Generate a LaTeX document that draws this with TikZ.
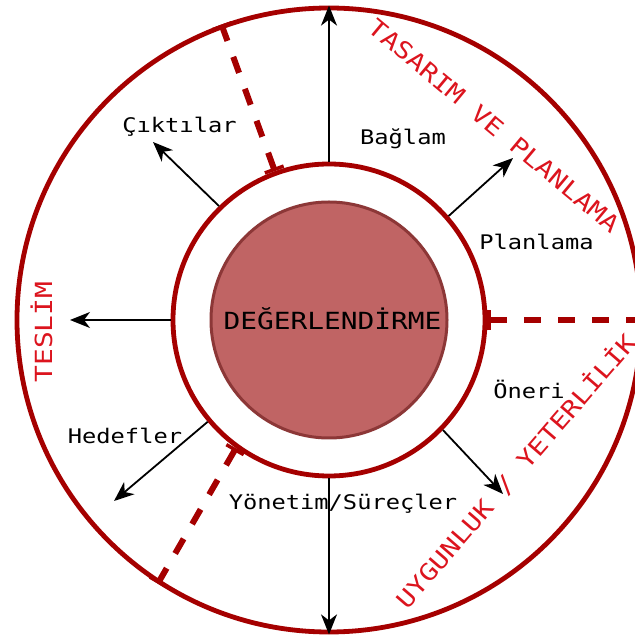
\documentclass[tikz,border=0pt]{standalone}
\usepackage{fontspec}
\newfontfamily\monof[FakeStretch=1.18]{DejaVu Sans Mono}
\usetikzlibrary{arrows.meta}
\definecolor{ringred}{RGB}{165,0,0}
\definecolor{labred}{RGB}{220,20,30}
\definecolor{corefill}{RGB}{192,100,100}
\definecolor{coreline}{RGB}{140,55,55}
\begin{document}
\begin{tikzpicture}[x=1pt,y=1pt,
  ringc/.style={circle,draw=ringred,line width=4.8pt,inner sep=0pt},
  arr/.style={line width=1.8pt,-{Stealth[length=20pt,width=16pt,inset=6pt]}},
  sectorline/.style={draw=ringred,line width=6pt,dash pattern=on 17pt off 17pt,
     {Bar[width=20pt,line width=3.5pt]}-{Bar[width=20pt,line width=3.5pt]}},
  lab/.style={font=\monof\fontsize{20.1}{20.1}\selectfont,anchor=base,inner sep=0pt},
  biglab/.style={font=\monof\fontsize{23.6}{23.6}\selectfont,anchor=base,inner sep=0pt},
  redlab/.style={biglab,text=labred}]
\useasboundingbox (0,0) rectangle (635,635);
\clip (0,0) rectangle (635,635);
\fill[white] (0,0) rectangle (635,635);
\node[ringc,minimum size=624pt] (outer) at (329,315) {};
\node[ringc,minimum size=312pt] (ring) at (329,315) {};
\node[circle,fill=corefill,draw=coreline,line width=3pt,minimum size=236pt,inner sep=0pt] (core) at (329,315) {};
\node[biglab] (eval) at (332.5,305) {DEĞERLENDİRME};
% sector separators
\path[sectorline] (ring.110.5) -- (outer.110);
\path[sectorline] (ring.east) -- (outer.east);
\path[sectorline] (ring.234) -- (outer.237);
% arrow end points
\coordinate (eL) at (70,315);
\coordinate (eUL) at (153,493);
\coordinate (eUR) at (513,477);
\coordinate (eLR) at (503,141);
\coordinate (eLL) at (114,134);
\draw[arr] (ring.north) -- (outer.north);
\draw[arr] (ring.south) -- (outer.south);
\draw[arr] (ring.west) -- (eL);
\draw[arr] (ring.134) -- (eUL);
\draw[arr] (ring.41) -- (eUR);
\draw[arr] (ring.-44) -- (eLR);
\draw[arr] (ring.220) -- (eLL);
% labels
\node[lab] (l1) at (179.5,502.7) {Çıktılar};
\node[lab] (l2) at (403,490) {Bağlam};
\node[lab] (l3) at (536.5,385.7) {Planlama};
\node[lab] (l4) at (529,236) {Öneri};
\node[lab] (l5) at (125,191.7) {Hedefler};
\node[lab] (l6) at (343,125.7) {Yönetim/Süreçler};
% red sector titles
\node[redlab,rotate=-39.8] (t1) at (488.5,502.6) {TASARIM VE PLANLAMA};
\node[redlab,rotate=49.2] (t2) at (522.5,157.9) {UYGUNLUK / YETERLİLİK};
\node[redlab,rotate=90] (t3) at (52,303) {TESLİM};
\end{tikzpicture}
\end{document}
